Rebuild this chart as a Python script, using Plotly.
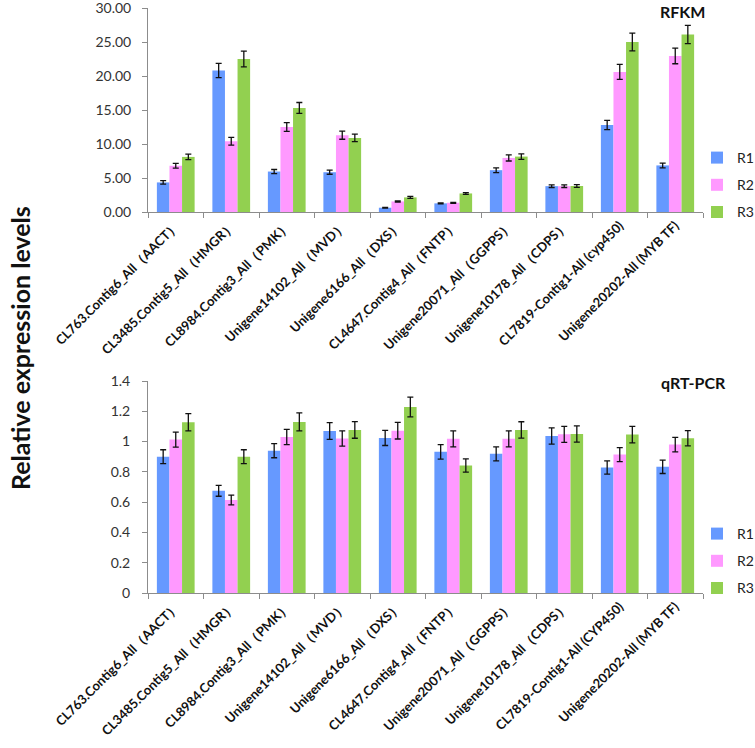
import plotly.graph_objects as go

categories_top = [
    "CL763.Contig6_All（AACT）", "CL3485.Contig5_All（HMGR）", "CL8984.Contig3_All（PMK）",
    "Unigene14102_All（MVD）", "Unigene6166_All（DXS）", "CL4647.Contig4_All（FNTP）",
    "Unigene20071_All（GGPPS）", "Unigene10178_All（CDPS）", "CL7819-Contig1-All (cyp450)",
    "Unigene20202-All (MYB TF)",
]
categories_bottom = [
    "CL763.Contig6_All（AACT）", "CL3485.Contig5_All（HMGR）", "CL8984.Contig3_All（PMK）",
    "Unigene14102_All（MVD）", "Unigene6166_All（DXS）", "CL4647.Contig4_All（FNTP）",
    "Unigene20071_All（GGPPS）", "Unigene10178_All（CDPS）", "CL7819-Contig1-All (CYP450)",
    "Unigene20202-All (MYB TF)",
]
series_names = ["R1", "R2", "R3"]

rfkm_r1 = [4.35, 20.8, 5.95, 5.85, 0.63, 1.27, 6.15, 3.8, 12.8, 6.85]
rfkm_r2 = [6.8, 10.4, 12.5, 11.3, 1.55, 1.36, 7.95, 3.8, 20.6, 22.95]
rfkm_r3 = [8.1, 22.5, 15.3, 10.9, 2.15, 2.73, 8.15, 3.82, 25.0, 26.1]
rfkm_e1 = [0.25, 1.05, 0.3, 0.3, 0.05, 0.06, 0.35, 0.2, 0.68, 0.35]
rfkm_e2 = [0.35, 0.58, 0.65, 0.6, 0.08, 0.07, 0.45, 0.2, 1.1, 1.15]
rfkm_e3 = [0.4, 1.15, 0.8, 0.55, 0.15, 0.13, 0.4, 0.2, 1.3, 1.35]

qpcr_r1 = [0.90, 0.675, 0.94, 1.07, 1.024, 0.932, 0.919, 1.037, 0.829, 0.833]
qpcr_r2 = [1.013, 0.614, 1.03, 1.02, 1.072, 1.018, 1.018, 1.048, 0.914, 0.98]
qpcr_r3 = [1.127, 0.90, 1.13, 1.077, 1.228, 0.842, 1.077, 1.05, 1.046, 1.022]
qpcr_e1 = [0.046, 0.036, 0.047, 0.055, 0.05, 0.048, 0.046, 0.054, 0.044, 0.044]
qpcr_e2 = [0.05, 0.032, 0.05, 0.05, 0.055, 0.053, 0.053, 0.053, 0.046, 0.048]
qpcr_e3 = [0.057, 0.046, 0.06, 0.055, 0.065, 0.044, 0.054, 0.053, 0.054, 0.05]

colors = ["#6699FF", "#FF99FF", "#92D050"]
FONT = "Lato"

fig = go.Figure()

top_vals = [rfkm_r1, rfkm_r2, rfkm_r3]
top_errs = [rfkm_e1, rfkm_e2, rfkm_e3]
bot_vals = [qpcr_r1, qpcr_r2, qpcr_r3]
bot_errs = [qpcr_e1, qpcr_e2, qpcr_e3]

for i, name in enumerate(series_names):
    fig.add_trace(go.Bar(
        x=categories_top, y=top_vals[i], name=name, marker_color=colors[i],
        marker_line_width=0,
        error_y=dict(type="data", array=top_errs[i], color="#111111", thickness=1.3, width=3),
        xaxis="x", yaxis="y", legend="legend", legendgroup="t" + name,
    ))
for i, name in enumerate(series_names):
    fig.add_trace(go.Bar(
        x=categories_bottom, y=bot_vals[i], name=name, marker_color=colors[i],
        marker_line_width=0,
        error_y=dict(type="data", array=bot_errs[i], color="#111111", thickness=1.3, width=3),
        xaxis="x2", yaxis="y2", legend="legend2", legendgroup="b" + name,
    ))

W, H = 755, 748
X0, X1 = 148, 703      # plot area, screen pixels
Y_TOP, Y_BOT = 8, 593
ph = Y_BOT - Y_TOP
pw = X1 - X0


def py(pix):
    return (Y_BOT - pix) / ph


def px(pix):
    return (pix - X0) / pw


axis_common = dict(showline=True, linecolor="#8C8C8C", linewidth=1, ticks="outside",
                   tickcolor="#8C8C8C", ticklen=5, showgrid=False, zeroline=False,
                   automargin=False, ticklabeloverflow="allow")

xtick_font = dict(family=FONT, size=13, color="#111111", weight="bold")
ytick_font = dict(family=FONT, size=14, color="#333333")

fig.update_layout(
    width=W, height=H,
    margin=dict(l=X0, r=W - X1, t=Y_TOP, b=H - Y_BOT, autoexpand=False),
    paper_bgcolor="white", plot_bgcolor="white",
    barmode="group", bargap=0.32, bargroupgap=0,
    font=dict(family=FONT, color="#222222"),
    xaxis=dict(domain=[0, 1], anchor="y", tickangle=-45, tickson="boundaries",
               tickfont=xtick_font, **axis_common),
    yaxis=dict(domain=[py(212), 1], anchor="x", range=[0, 30], dtick=5, tickformat=".2f",
               tickfont=ytick_font, ticklabelstandoff=8, **axis_common),
    xaxis2=dict(domain=[0, 1], anchor="y2", tickangle=-45, tickson="boundaries",
                tickfont=xtick_font, **axis_common),
    yaxis2=dict(domain=[0, py(381)], anchor="x2", range=[0, 1.4], dtick=0.2,
                tickfont=ytick_font, ticklabelstandoff=9, **axis_common),
    legend=dict(x=px(697), y=py(142), xanchor="left", yanchor="top",
                font=dict(family=FONT, size=14, color="#222222"), tracegroupgap=6,
                bgcolor="rgba(0,0,0,0)"),
    legend2=dict(x=px(697), y=py(518), xanchor="left", yanchor="top",
                 font=dict(family=FONT, size=14, color="#222222"), tracegroupgap=6,
                 bgcolor="rgba(0,0,0,0)"),
    annotations=[
        dict(text="RFKM", x=px(682), y=py(12), xref="paper", yref="paper",
             xanchor="center", yanchor="middle", showarrow=False,
             font=dict(family=FONT, size=16, weight="bold", color="#111111")),
        dict(text="qRT-PCR", x=px(693), y=py(383), xref="paper", yref="paper",
             xanchor="center", yanchor="middle", showarrow=False,
             font=dict(family=FONT, size=16, weight="bold", color="#111111")),
        dict(text="Relative expression levels", x=px(20), y=py(348), xref="paper", yref="paper",
             xanchor="center", yanchor="middle", textangle=-90, showarrow=False,
             font=dict(family=FONT, size=25, weight="bold", color="#111111")),
    ],
)

fig.write_html("out.html", config={"displayModeBar": False},
               post_script="document.body.style.margin='0';")
